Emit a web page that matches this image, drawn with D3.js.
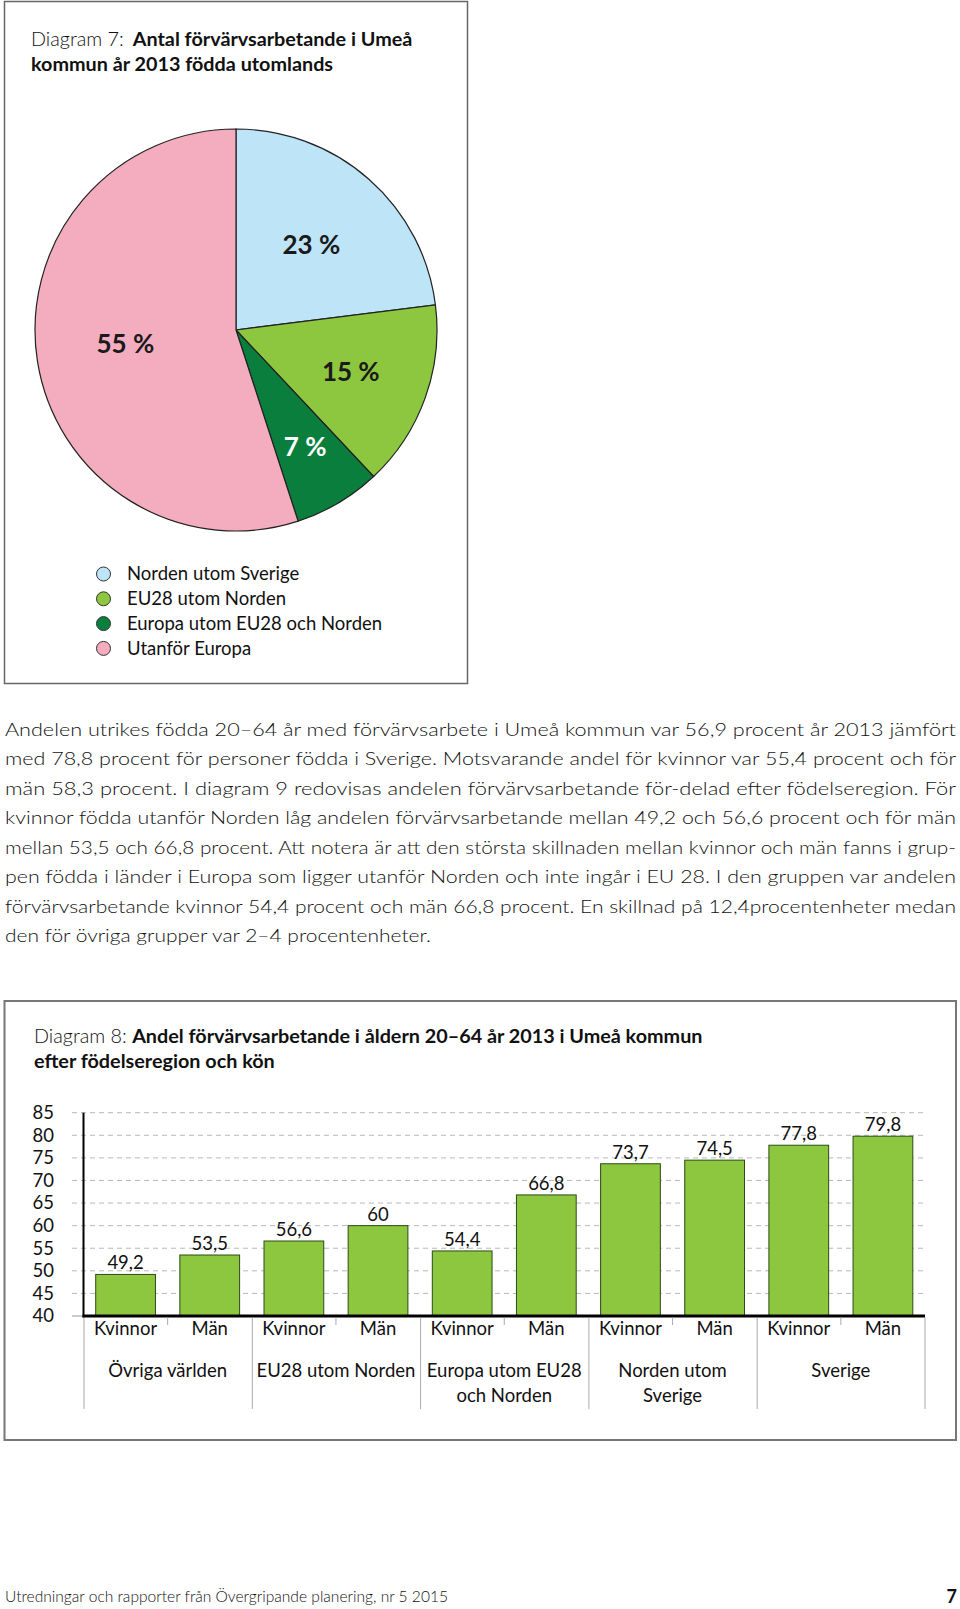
<!DOCTYPE html>
<html><head><meta charset="utf-8">
<script src="https://cdn.jsdelivr.net/npm/d3@7"></script>
<style>
html,body{margin:0;padding:0;background:#fff;}
svg{display:block;font-family:Lato,"Open Sans",sans-serif;}
</style></head>
<body>
<svg id="c" width="960" height="1609"></svg>
<script>
// ---------- Data ----------
const pieCategories = ["Norden utom Sverige","EU28 utom Norden","Europa utom EU28 och Norden","Utanför Europa"];
const pieValues = [23, 15, 7, 55];
const pieColors = ["#bde4f7","#8dc63f","#0a7f3d","#f4adbf"];
const pieLabelColors = ["#1a1a1a","#1a1a1a","#ffffff","#1a1a1a"];

const barGroups = ["Övriga världen","EU28 utom Norden","Europa utom EU28 och Norden","Norden utom Sverige","Sverige"];
const groupLabelLines = [["Övriga världen"],["EU28 utom Norden"],["Europa utom EU28","och Norden"],["Norden utom","Sverige"],["Sverige"]];
const sexes = ["Kvinnor","Män"];
const kvinnorValues = [49.2, 56.6, 54.4, 73.7, 77.8];
const manValues = [53.5, 60, 66.8, 74.5, 79.8];
const yTicks = [40,45,50,55,60,65,70,75,80,85];

const bodyLines = [
 "Andelen utrikes födda 20–64 år med förvärvsarbete i Umeå kommun var 56,9 procent år 2013 jämfört",
 "med 78,8 procent för personer födda i Sverige. Motsvarande andel för kvinnor var 55,4 procent och för",
 "män 58,3 procent. I diagram 9 redovisas andelen förvärvsarbetande för-delad efter födelseregion. För",
 "kvinnor födda utanför Norden låg andelen förvärvsarbetande mellan 49,2 och 56,6 procent och för män",
 "mellan 53,5 och 66,8 procent. Att notera är att den största skillnaden mellan kvinnor och män fanns i grup-",
 "pen födda i länder i Europa som ligger utanför Norden och inte ingår i EU 28. I den gruppen var andelen",
 "förvärvsarbetande kvinnor 54,4 procent och män 66,8 procent. En skillnad på 12,4procentenheter medan",
 "den för övriga grupper var 2–4 procentenheter."
];

const svg = d3.select("#c");

// ---------- Diagram 7 (pie) ----------
svg.append("rect").attr("x",4.5).attr("y",1.5).attr("width",463).attr("height",682)
  .attr("fill","none").attr("stroke","#666").attr("stroke-width",1.5);

const t7 = svg.append("text").attr("x",31).attr("y",46).attr("font-size",19.8).attr("fill","#111");
t7.append("tspan").attr("font-weight",300).text("Diagram 7:");
t7.append("tspan").attr("font-weight",700).attr("dx",9).text("Antal förvärvsarbetande i Umeå");
svg.append("text").attr("x",31).attr("y",70.5).attr("font-size",19.8).attr("font-weight",700).attr("fill","#111")
  .text("kommun år 2013 födda utomlands");

const cx = 236, cy = 330, R = 201;
const pieGen = d3.pie().sort(null).value(d => d);
const arcs = pieGen(pieValues);
const arcGen = d3.arc().innerRadius(0).outerRadius(R);
const pg = svg.append("g").attr("transform",`translate(${cx},${cy})`);
pg.selectAll("path").data(arcs).join("path")
  .attr("d",arcGen).attr("fill",(d,i)=>pieColors[i]).attr("stroke","#222").attr("stroke-width",1.2);
pg.selectAll("text").data(arcs).join("text")
  .attr("transform",d=>{
    const span = d.endAngle-d.startAngle;
    const lr = span < 0.5 ? 136 : (span < 1.2 ? 122 : (span > 3 ? 112 : 114));
    const c = d3.arc().innerRadius(lr).outerRadius(lr).centroid(d);
    return `translate(${c[0]},${c[1] - (span > 3 ? 4 : 0)})`;
  })
  .attr("text-anchor","middle").attr("dy","0.36em")
  .attr("font-size",26).attr("font-weight",700)
  .attr("fill",(d,i)=>pieLabelColors[i])
  .text(d=>d.value+" %");

const lg = svg.append("g");
pieCategories.forEach((c,i)=>{
  const yy = 574 + i*24.8;
  lg.append("circle").attr("cx",103.5).attr("cy",yy).attr("r",7).attr("fill",pieColors[i]).attr("stroke","#333").attr("stroke-width",1);
  lg.append("text").attr("x",127).attr("y",yy).attr("dy","0.35em").attr("font-size",18.5).attr("fill","#111").text(c);
});

// ---------- Body text ----------
bodyLines.forEach((l,i)=>{
  const last = i === bodyLines.length-1;
  svg.append("text").attr("x",5).attr("y",735.5 + i*29.5)
    .attr("font-size",18.5).attr("font-weight",300).attr("fill","#111")
    .attr("textLength", last ? 426 : 951).attr("lengthAdjust","spacingAndGlyphs")
    .text(l);
});

// ---------- Diagram 8 (bars) ----------
svg.append("rect").attr("x",4.5).attr("y",1001).attr("width",951.5).attr("height",439)
  .attr("fill","none").attr("stroke","#777").attr("stroke-width",2);

const t8 = svg.append("text").attr("x",34).attr("y",1042.5).attr("font-size",19.8).attr("fill","#111");
t8.append("tspan").attr("font-weight",300).text("Diagram 8: ");
t8.append("tspan").attr("font-weight",700).text("Andel förvärvsarbetande i åldern 20–64 år 2013 i Umeå kommun");
svg.append("text").attr("x",34).attr("y",1067.5).attr("font-size",19.8).attr("font-weight",700).attr("fill","#111")
  .text("efter födelseregion och kön");

const bars = [];
barGroups.forEach((g,i)=>{
  bars.push({key:g+"|K", group:g, gi:i, sex:sexes[0], v:kvinnorValues[i]});
  bars.push({key:g+"|M", group:g, gi:i, sex:sexes[1], v:manValues[i]});
});

const x0 = 83.5, x1 = 925;
const x = d3.scaleBand().domain(bars.map(d=>d.key)).range([x0,x1]).paddingInner(0.29).paddingOuter(0.145);
const xg = d3.scaleBand().domain(barGroups).range([x0,x1]);
const y = d3.scaleLinear().domain([40,85]).range([1316,1112.7]);

// gridlines
const grid = svg.append("g");
grid.selectAll("line").data(yTicks.filter(t=>t>40)).join("line")
  .attr("x1",72).attr("x2",x1).attr("y1",d=>y(d)).attr("y2",d=>y(d))
  .attr("stroke","#b8b8b8").attr("stroke-width",1).attr("stroke-dasharray","5,4");
svg.append("line").attr("x1",72).attr("x2",x0).attr("y1",y(40)).attr("y2",y(40)).attr("stroke","#999");

// y axis labels
const yAxis = d3.axisLeft(y).tickValues(yTicks).tickSize(0).tickPadding(0).tickFormat(d3.format("d"));
const ya = svg.append("g").attr("transform",`translate(54,0)`).call(yAxis);
ya.select(".domain").remove();
ya.selectAll("text").attr("font-size",18.5).attr("font-family","Lato,sans-serif").attr("fill","#111");

// bars
svg.append("g").selectAll("rect").data(bars).join("rect")
  .attr("x",d=>x(d.key)).attr("width",x.bandwidth())
  .attr("y",d=>y(d.v)).attr("height",d=>y(40)-y(d.v))
  .attr("fill","#8dc63f").attr("stroke","#2d4a17").attr("stroke-width",1);

// value labels
svg.append("g").selectAll("text").data(bars).join("text")
  .attr("x",d=>x(d.key)+x.bandwidth()/2).attr("y",d=>y(d.v)-5)
  .attr("text-anchor","middle").attr("font-size",18.5).attr("fill","#111")
  .text(d=>String(d.v).replace(".",","));

// axes lines
svg.append("line").attr("x1",x0).attr("x2",x0).attr("y1",y(85)).attr("y2",y(40)+1.5)
  .attr("stroke","#000").attr("stroke-width",2);
svg.append("line").attr("x1",x0-1).attr("x2",x1).attr("y1",y(40)).attr("y2",y(40))
  .attr("stroke","#000").attr("stroke-width",3);

// category separators
const sep = svg.append("g").attr("stroke","#aaa").attr("stroke-width",1);
barGroups.forEach(g=>{
  sep.append("line").attr("x1",xg(g)+0.5).attr("x2",xg(g)+0.5).attr("y1",y(40)+1.5).attr("y2",1409);
  const mid = xg(g)+xg.bandwidth()/2;
  sep.append("line").attr("x1",mid).attr("x2",mid).attr("y1",y(40)+1.5).attr("y2",1325);
});
sep.append("line").attr("x1",x1).attr("x2",x1).attr("y1",y(40)+1.5).attr("y2",1409);

// sex labels
svg.append("g").selectAll("text").data(bars).join("text")
  .attr("x",d=>x(d.key)+x.bandwidth()/2).attr("y",1335)
  .attr("text-anchor","middle").attr("font-size",18.5).attr("fill","#111")
  .text(d=>d.sex);

// group labels
barGroups.forEach((g,i)=>{
  const t = svg.append("text").attr("x",xg(g)+xg.bandwidth()/2).attr("y",1376.5)
    .attr("text-anchor","middle").attr("font-size",18.5).attr("fill","#111");
  groupLabelLines[i].forEach((ln,j)=>{
    t.append("tspan").attr("x",xg(g)+xg.bandwidth()/2).attr("dy", j===0?0:25).text(ln);
  });
});

// ---------- Footer ----------
svg.append("text").attr("x",5).attr("y",1602).attr("font-size",15).attr("font-weight",300).attr("fill","#111")
  .attr("textLength",443).attr("lengthAdjust","spacingAndGlyphs")
  .text("Utredningar och rapporter från Övergripande planering, nr 5 2015");
svg.append("text").attr("x",957).attr("y",1603).attr("text-anchor","end").attr("font-size",18).attr("font-weight",700).attr("fill","#111").text("7");
</script>
</body></html>
